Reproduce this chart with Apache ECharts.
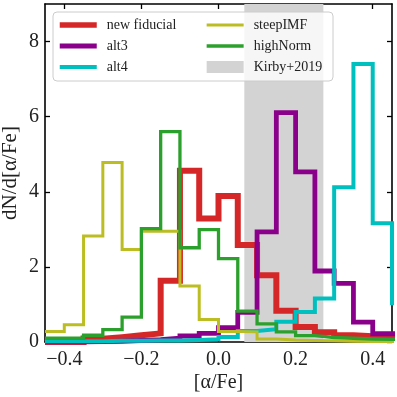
<!DOCTYPE html>
<html>
<head>
<meta charset="utf-8">
<script src="https://cdn.jsdelivr.net/npm/echarts@6/dist/echarts.min.js"></script>
<style>
  html, body { margin: 0; padding: 0; background: #fff; }
  #chart { width: 397px; height: 397px; }
</style>
</head>
<body>
<div id="chart"></div>
<script>
// bin edges of the [alpha/Fe] histograms (last bin lies past the axis edge)
const binEdges = [-0.45, -0.40, -0.35, -0.30, -0.25, -0.20, -0.15, -0.10, -0.05, 0.00,
  0.05, 0.10, 0.15, 0.20, 0.25, 0.30, 0.35, 0.40, 0.45, 0.50];

const newFiducial = [0, 0, 0.09, 0.13, 0.18, 0.23, 1.63, 4.56, 3.29, 3.89,
  2.58, 1.78, 0.83, 0.40, 0.26, 0.18, 0.15, 0.12, 0.12];
const alt3 = [0, 0, 0.01, 0.02, 0.04, 0.06, 0.10, 0.16, 0.23, 0.38,
  0.79, 2.93, 6.11, 4.53, 1.89, 1.56, 0.53, 0.22, 0.22];
const alt4 = [0.02, 0.02, 0.02, 0.03, 0.03, 0.04, 0.04, 0.05, 0.07, 0.13,
  0.29, 0.34, 0.54, 0.80, 1.16, 4.12, 7.40, 3.16, 1.03];
const steepIMF = [0.28, 0.46, 2.82, 4.78, 2.46, 2.95, 2.95, 1.49, 0.60, 0.28,
  0.27, 0.08, 0.05, 0.04, 0.03, 0.02, 0.01, 0.01, 0.01];
const highNorm = [0.10, 0.10, 0.18, 0.33, 0.66, 3.02, 5.60, 2.51, 2.99, 2.22,
  0.82, 0.48, 0.27, 0.17, 0.12, 0.10, 0.08, 0.07, 0.07];

const kirbyRange = [0.067, 0.272];

const xTicks = [-0.4, -0.2, 0.0, 0.2, 0.4];
const yTicks = [0, 2, 4, 6, 8];

const FONT = '"Liberation Serif", "DejaVu Serif", serif';

const lineWidths = {
  'new fiducial': 6,
  alt3: 4.8,
  alt4: 4,
  steepIMF: 3,
  highNorm: 3.3
};

function stepPoints(values) {
  const pts = [];
  values.forEach((v, i) => {
    pts.push([binEdges[i], v]);
    pts.push([binEdges[i + 1], v]);
  });
  return pts;
}

function fmtTick(v) {
  const s = Math.abs(v).toFixed(1);
  return v < 0 ? `\u2212${s}` : s;
}

function histSeries(name, values, color) {
  return {
    name,
    type: 'line',
    data: stepPoints(values),
    symbol: 'none',
    showSymbol: false,
    clip: true,
    z: 3,
    color,
    lineStyle: { color, width: lineWidths[name], join: 'miter', cap: 'butt' }
  };
}

// legend entry for a line: keep the series' thickness (legend defaults to 2px)
function lineEntry(name) {
  return { name, lineStyle: { width: Math.min(lineWidths[name], 5.5) } };
}

const chart = echarts.init(document.getElementById('chart'), null, { renderer: 'canvas' });

const axisLine = { show: true, onZero: false, lineStyle: { color: '#000', width: 1.6 } };
const tickStyle = { inside: true, length: 5, lineStyle: { color: '#000', width: 1.3 } };

// line legends: hide the symbol drawn in the middle of the line icon
const legendCommon = {
  orient: 'vertical',
  top: 17,
  padding: 0,
  itemWidth: 37,
  itemHeight: 12,
  itemGap: 5,
  selectedMode: false,
  z: 10,
  itemStyle: { opacity: 0 },
  textStyle: { fontFamily: FONT, fontSize: 14, color: '#222', lineHeight: 16, padding: [0, 0, 0, 5] }
};

chart.setOption({
  animation: false,
  textStyle: { fontFamily: FONT },
  grid: { left: 45, right: 5, top: 4, bottom: 55, outerBoundsMode: 'none', containLabel: false },
  graphic: [{
    type: 'rect',
    z: 9,
    shape: { x: 53, y: 12, width: 280, height: 69, r: 4 },
    style: { fill: 'rgba(255,255,255,0.8)', stroke: '#cccccc', lineWidth: 1 }
  }],
  legend: [
    Object.assign({}, legendCommon, {
      left: 57,
      data: [lineEntry('new fiducial'), lineEntry('alt3'), lineEntry('alt4')]
    }),
    Object.assign({}, legendCommon, {
      left: 205,
      data: [lineEntry('steepIMF'), lineEntry('highNorm'),
        { name: 'Kirby+2019', icon: 'rect', itemStyle: { opacity: 1, color: '#d3d3d3' } }]
    })
  ],
  xAxis: [{
    type: 'value',
    min: -0.45,
    max: 0.45,
    name: '[\u03b1/Fe]',
    nameLocation: 'middle',
    nameGap: 31,
    nameMoveOverlap: false,
    nameTextStyle: { fontFamily: FONT, fontSize: 20, color: '#222' },
    axisLine,
    axisTick: Object.assign({ customValues: xTicks }, tickStyle),
    axisLabel: { customValues: xTicks, formatter: fmtTick, fontSize: 20, color: '#222', margin: 8, fontFamily: FONT },
    splitLine: { show: false }
  }, {
    type: 'value',
    position: 'top',
    min: -0.45,
    max: 0.45,
    axisLine,
    axisTick: Object.assign({ customValues: xTicks }, tickStyle),
    axisLabel: { show: false },
    splitLine: { show: false }
  }],
  yAxis: [{
    type: 'value',
    min: 0,
    max: 9,
    name: 'dN/d[\u03b1/Fe]',
    nameLocation: 'middle',
    nameGap: 24,
    nameMoveOverlap: false,
    nameTextStyle: { fontFamily: FONT, fontSize: 21, color: '#222' },
    axisLine,
    axisTick: Object.assign({ customValues: yTicks }, tickStyle),
    axisLabel: { customValues: yTicks, fontSize: 20, color: '#222', margin: 6, fontFamily: FONT },
    splitLine: { show: false }
  }, {
    type: 'value',
    position: 'right',
    min: 0,
    max: 9,
    axisLine,
    axisTick: Object.assign({ customValues: yTicks }, tickStyle),
    axisLabel: { show: false },
    splitLine: { show: false }
  }],
  series: [
    {
      name: 'Kirby+2019',
      type: 'bar',
      data: [],
      z: 1,
      itemStyle: { color: '#d3d3d3' },
      markArea: {
        silent: true,
        itemStyle: { color: '#d3d3d3' },
        data: [[{ xAxis: kirbyRange[0] }, { xAxis: kirbyRange[1] }]]
      }
    },
    histSeries('new fiducial', newFiducial, '#d62728'),
    histSeries('alt3', alt3, '#8b008b'),
    histSeries('alt4', alt4, '#00bfbf'),
    histSeries('steepIMF', steepIMF, '#bcbd22'),
    histSeries('highNorm', highNorm, '#2ca02c')
  ]
});
</script>
</body>
</html>
